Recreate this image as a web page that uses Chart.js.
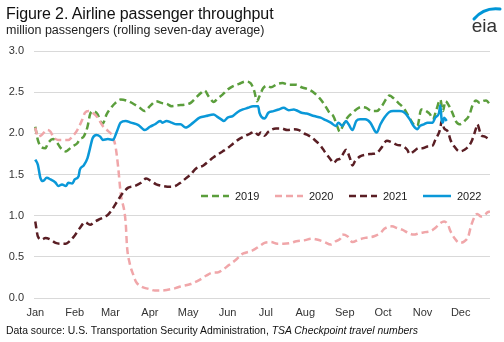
<!DOCTYPE html>
<html>
<head>
<meta charset="utf-8">
<script src="https://cdn.jsdelivr.net/npm/chart.js@4"></script>
<style>
  html, body { margin: 0; padding: 0; background: #fff; }
  #wrap { position: relative; width: 504px; height: 342px; overflow: hidden;
          font-family: "Liberation Sans", Arial, sans-serif; color: #1a1a1a; }
  #chart { position: absolute; left: 0; top: 0; }
  .txt { position: absolute; white-space: nowrap; line-height: 1; }
  #title { left: 6px; top: 6px; font-size: 16px; color: #111; letter-spacing: -0.1px; }
  #subtitle { left: 6px; top: 24px; font-size: 12.5px; color: #222; }
  #source { left: 6px; top: 326px; font-size: 10.4px; color: #111; }
  #logo { right: 7px; top: 16px; font-size: 19px; color: #333; }
  #swoosh { position: absolute; left: 468px; top: 3px; }
</style>
</head>
<body>
<div id="wrap">
  <canvas id="chart" width="504" height="342"></canvas>
  <div class="txt" id="title">Figure 2. Airline passenger throughput</div>
  <div class="txt" id="subtitle">million passengers (rolling seven-day average)</div>
  <div class="txt" id="source">Data source: U.S. Transportation Security Administration, <i>TSA Checkpoint travel numbers</i></div>
  <svg id="swoosh" width="36" height="20" viewBox="0 0 36 20">
    <path d="M6 16 Q16 4 32 6" fill="none" stroke="#0096d7" stroke-width="3" stroke-linecap="round"/>
  </svg>
  <div class="txt" id="logo">eia</div>
</div>
<script>
// Day of year (0 = Jan 1) and seven-day average throughput, million passengers
const days2019 = [0,2,5,8,10,14,17,20,24,26,29,33,35,38,41,43,45,49,51,53,56,59,63,67,73,78,82,86,90,95,99,103,107,112,118,122,126,130,133,136,138,140,143,147,151,155,160,165,169,172,174,176,179,182,185,190,194,199,205,209,215,219,223,227,231,234,237,239,242,245,249,252,256,260,264,268,272,276,278,281,285,289,293,297,300,303,307,310,312,315,318,320,322,325,328,330,333,337,341,343,346,349,351,354,357];
const pax2019 = [2.08,1.92,1.83,1.82,1.88,1.93,1.89,1.82,1.78,1.80,1.84,1.88,1.93,1.96,2.08,2.23,2.27,2.23,2.15,2.12,2.23,2.30,2.37,2.41,2.39,2.35,2.31,2.27,2.33,2.39,2.37,2.36,2.33,2.34,2.35,2.37,2.43,2.49,2.52,2.45,2.41,2.38,2.42,2.47,2.53,2.57,2.60,2.63,2.61,2.51,2.39,2.45,2.55,2.58,2.56,2.60,2.61,2.59,2.59,2.56,2.53,2.49,2.43,2.35,2.25,2.21,2.09,2.02,2.11,2.19,2.25,2.29,2.32,2.31,2.27,2.27,2.33,2.43,2.46,2.43,2.37,2.31,2.21,2.11,2.09,2.29,2.27,2.23,2.17,2.29,2.41,2.27,2.39,2.33,2.23,2.15,2.11,2.15,2.23,2.33,2.40,2.37,2.39,2.40,2.35];

const days2020 = [0,2,5,9,12,14,18,22,26,29,33,37,39,42,45,49,53,57,60,63,65,67,71,72,74,77,79,83,89,94,99,104,110,114,122,129,134,140,143,147,152,158,162,165,171,176,180,185,190,195,201,205,211,217,221,227,232,236,240,241,245,249,254,259,266,271,274,280,284,288,293,297,302,306,310,314,318,321,324,326,329,333,337,340,342,345,347,350,353,355,357];
const pax2020 = [2.07,1.96,1.98,2.04,2.02,1.96,1.92,1.92,1.92,1.96,2.04,2.17,2.25,2.27,2.25,2.19,2.09,2.03,1.98,1.84,1.60,1.28,0.91,0.63,0.43,0.28,0.20,0.14,0.11,0.09,0.09,0.10,0.12,0.14,0.17,0.22,0.27,0.31,0.31,0.34,0.40,0.47,0.53,0.55,0.58,0.63,0.67,0.68,0.66,0.66,0.67,0.69,0.70,0.72,0.71,0.68,0.65,0.69,0.73,0.77,0.75,0.68,0.71,0.73,0.75,0.79,0.84,0.87,0.85,0.83,0.79,0.77,0.79,0.80,0.81,0.85,0.91,0.93,0.89,0.81,0.73,0.67,0.69,0.75,0.87,0.99,1.02,0.99,1.01,1.04,1.05];

const days2021 = [0,2,5,8,12,16,20,24,27,31,35,39,43,47,51,55,57,61,65,69,73,78,83,87,91,95,100,106,110,114,118,122,126,132,136,140,143,147,151,155,160,165,169,172,175,177,180,183,189,193,198,203,207,211,216,220,224,228,232,234,237,240,242,244,247,249,251,255,259,264,268,272,276,280,284,288,292,294,297,301,304,308,312,314,318,319,321,324,326,329,333,337,341,343,346,347,350,353,357];
const pax2021 = [0.93,0.75,0.71,0.73,0.71,0.67,0.66,0.66,0.69,0.76,0.85,0.92,0.89,0.93,0.96,0.99,1.01,1.09,1.19,1.28,1.34,1.36,1.40,1.45,1.42,1.38,1.36,1.35,1.36,1.40,1.45,1.50,1.57,1.61,1.66,1.71,1.74,1.78,1.82,1.87,1.93,1.97,2.00,2.02,1.98,2.01,1.97,2.02,2.06,2.06,2.04,2.05,2.04,2.00,1.96,1.91,1.85,1.76,1.68,1.64,1.68,1.70,1.76,1.80,1.70,1.61,1.66,1.72,1.74,1.75,1.76,1.83,1.91,1.89,1.86,1.85,1.80,1.75,1.78,1.82,1.82,1.84,1.85,1.92,2.06,2.15,2.06,2.02,1.92,1.84,1.78,1.80,1.86,1.92,2.06,2.11,1.98,1.96,1.92];

const days2022 = [0,2,4,6,9,12,16,18,21,24,26,29,31,34,35,38,41,43,45,48,51,53,57,61,64,67,71,75,81,86,90,94,98,100,103,107,111,114,118,124,129,134,140,143,146,148,151,155,159,163,167,171,175,176,180,183,187,191,195,199,203,205,209,213,219,224,228,232,236,238,241,244,246,249,252,255,259,263,267,268,271,274,278,281,286,290,294,297,300,302,305,308,312,314,317,318,319,320,321,323];
const pax2022 = [1.68,1.62,1.46,1.42,1.46,1.44,1.40,1.36,1.38,1.36,1.40,1.39,1.44,1.48,1.56,1.61,1.70,1.82,1.94,1.98,1.96,1.92,1.93,1.92,2.02,2.13,2.15,2.13,2.10,2.04,2.08,2.11,2.15,2.13,2.15,2.13,2.11,2.11,2.07,2.13,2.19,2.21,2.23,2.20,2.17,2.15,2.19,2.21,2.26,2.29,2.31,2.33,2.33,2.25,2.18,2.25,2.27,2.29,2.31,2.28,2.29,2.28,2.25,2.24,2.21,2.19,2.16,2.13,2.09,2.13,2.09,2.15,2.11,2.04,2.15,2.17,2.17,2.13,2.02,2.01,2.11,2.19,2.26,2.27,2.27,2.25,2.17,2.09,2.05,2.09,2.11,2.13,2.13,2.19,2.25,2.34,2.17,2.13,2.19,2.15];

// Axis ticks: first day of each month
const monthStarts = [0,31,59,90,120,151,181,212,243,273,304,334];
const monthLabels = ['Jan','Feb','Mar','Apr','May','Jun','Jul','Aug','Sep','Oct','Nov','Dec'];
const yTicks = [0, 0.5, 1.0, 1.5, 2.0, 2.5, 3.0];

const toPoints = (xs, ys) => xs.map((d, i) => ({ x: d, y: ys[i] }));

// Legend drawn inside the plot area, in one row
const insideLegend = {
  id: 'insideLegend',
  afterDatasetsDraw(chart, args, opts) {
    const ctx = chart.ctx;
    const area = chart.chartArea;
    const y = opts.y;
    chart.data.datasets.forEach((ds, k) => {
      const x = area.left + opts.offsetX + k * opts.itemWidth;
      ctx.save();
      ctx.strokeStyle = ds.borderColor;
      ctx.lineWidth = ds.borderWidth;
      ctx.setLineDash(ds.borderDash || []);
      ctx.beginPath();
      ctx.moveTo(x, y);
      ctx.lineTo(x + opts.lineLength, y);
      ctx.stroke();
      ctx.setLineDash([]);
      ctx.fillStyle = opts.color;
      ctx.font = opts.font;
      ctx.textBaseline = 'middle';
      ctx.textAlign = 'left';
      ctx.fillText(ds.label, x + opts.lineLength + opts.gap, y + 0.5);
      ctx.restore();
    });
  }
};

const lineBase = {
  borderWidth: 2.5,
  pointRadius: 0,
  fill: false,
  cubicInterpolationMode: 'monotone',
  borderCapStyle: 'butt'
};

new Chart(document.getElementById('chart'), {
  type: 'line',
  data: {
    datasets: [
      Object.assign({}, lineBase, { label: '2019', data: toPoints(days2019, pax2019), borderColor: '#5b9e3c', borderDash: [7, 4], order: 3 }),
      Object.assign({}, lineBase, { label: '2020', data: toPoints(days2020, pax2020), borderColor: '#f0a6a9', borderDash: [7, 4], order: 2 }),
      Object.assign({}, lineBase, { label: '2021', data: toPoints(days2021, pax2021), borderColor: '#5a1e24', borderDash: [7, 4], order: 1 }),
      Object.assign({}, lineBase, { label: '2022', data: toPoints(days2022, pax2022), borderColor: '#0a98d8', order: 0 })
    ]
  },
  options: {
    responsive: false,
    animation: false,
    devicePixelRatio: 1,
    layout: { padding: { top: 51, right: 14, bottom: 20, left: 0 } },
    plugins: {
      legend: { display: false },
      tooltip: { enabled: false },
      insideLegend: {
        offsetX: 167, y: 196, itemWidth: 74, lineLength: 28, gap: 6,
        color: '#1a1a1a', font: '11px "Liberation Sans", Arial, sans-serif'
      }
    },
    scales: {
      x: {
        type: 'linear',
        min: -1,
        max: 357,
        afterBuildTicks: (scale) => { scale.ticks = monthStarts.map(v => ({ value: v })); },
        afterFit: (scale) => { scale.height = 24; },
        grid: { display: false, drawTicks: false },
        border: { display: false },
        ticks: {
          autoSkip: false,
          maxRotation: 0,
          padding: 8,
          color: '#333',
          font: { family: '"Liberation Sans", Arial, sans-serif', size: 11 },
          callback: (v, i) => monthLabels[i]
        }
      },
      y: {
        min: 0,
        max: 3,
        afterBuildTicks: (scale) => { scale.ticks = yTicks.map(v => ({ value: v })); },
        afterFit: (scale) => { scale.width = 34; },
        grid: { color: '#d9d9d9', lineWidth: 1, drawTicks: false },
        border: { display: false },
        ticks: {
          padding: 10,
          color: '#333',
          font: { family: '"Liberation Sans", Arial, sans-serif', size: 11 },
          callback: (v) => Number(v).toFixed(1)
        }
      }
    }
  },
  plugins: [insideLegend]
});
</script>
</body>
</html>
